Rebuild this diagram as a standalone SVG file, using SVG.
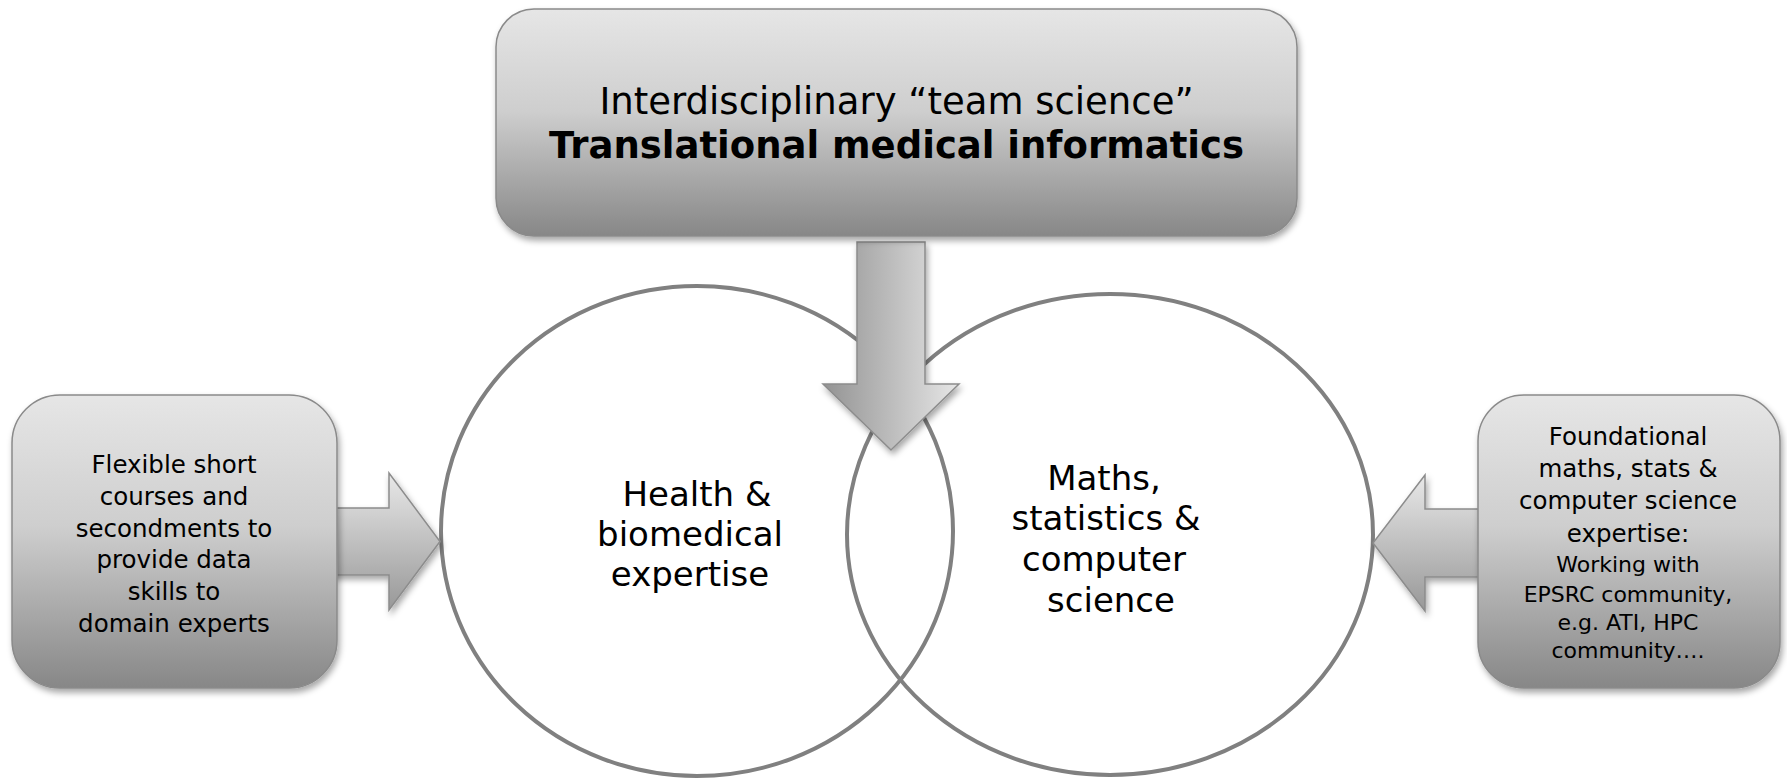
<svg xmlns="http://www.w3.org/2000/svg" width="1787" height="778" viewBox="0 0 1787 778">
<style>
.t{font-family:"DejaVu Sans",Verdana,"Liberation Sans",sans-serif;fill:#000;text-anchor:middle}
.box{fill:url(#boxGrad);stroke:#8a8a8a;stroke-width:1.5;filter:url(#shadow)}
.ring{fill:none;stroke:#808080;stroke-width:4}
.arrH{fill:url(#arrGradV);stroke:#8c8c8c;stroke-width:1.5;filter:url(#shadow)}
.arrD{fill:url(#arrGradH);stroke:#8c8c8c;stroke-width:1.5;filter:url(#shadow)}
</style>
<defs>
<linearGradient id="boxGrad" x1="0" y1="0" x2="0" y2="1">
<stop offset="0" stop-color="#e6e6e6"/>
<stop offset="0.45" stop-color="#cecece"/>
<stop offset="1" stop-color="#878787"/>
</linearGradient>
<linearGradient id="arrGradV" x1="0" y1="0" x2="0" y2="1">
<stop offset="0" stop-color="#e8e8e8"/>
<stop offset="1" stop-color="#989898"/>
</linearGradient>
<linearGradient id="arrGradH" x1="0" y1="0" x2="1" y2="0">
<stop offset="0" stop-color="#939393"/>
<stop offset="1" stop-color="#e6e6e6"/>
</linearGradient>
<filter id="shadow" x="-10%" y="-10%" width="125%" height="125%">
<feDropShadow dx="2" dy="4" stdDeviation="3" flood-color="#000" flood-opacity="0.35"/>
</filter>
</defs>
<rect width="1787" height="778" fill="#fff"/>

<g id="circle-health">
<ellipse class="ring" cx="697" cy="531" rx="256" ry="245"/>
<text class="t" font-size="34"><tspan x="697" y="506">Health &amp;</tspan><tspan x="690" y="546">biomedical</tspan><tspan x="690" y="586">expertise</tspan></text>
</g>
<g id="circle-maths">
<ellipse class="ring" cx="1110" cy="534.5" rx="263" ry="240.5"/>
<text class="t" font-size="34"><tspan x="1104" y="490">Maths,</tspan><tspan x="1106" y="530">statistics &amp;</tspan><tspan x="1104" y="571">computer</tspan><tspan x="1111" y="612">science</tspan></text>
</g>

<g id="connectors">
<path class="arrH" d="M330,508 H389 V473 L440,541.5 L389,610 V575 H330 Z"/>
<path class="arrH" d="M1485,509 H1425 V475 L1373,543 L1425,611 V577 H1485 Z"/>
<path class="arrD" d="M857,242 H925 V384 H959 L891,450 L823,384 H857 Z"/>
</g>

<g id="top-box">
<rect class="box" x="496" y="9" width="801" height="227" rx="38" ry="38"/>
<text class="t" font-size="37"><tspan x="896.5" y="114">Interdisciplinary “team science”</tspan><tspan x="896.5" y="158" font-weight="bold">Translational medical informatics</tspan></text>
</g>

<g id="left-box">
<rect class="box" x="12" y="395" width="325" height="293" rx="48" ry="48"/>
<text class="t" font-size="24.5"><tspan x="174" y="473">Flexible short</tspan><tspan x="174" y="505">courses and</tspan><tspan x="174" y="537">secondments to</tspan><tspan x="174" y="568">provide data</tspan><tspan x="174" y="600">skills to</tspan><tspan x="174" y="632">domain experts</tspan></text>
</g>

<g id="right-box">
<rect class="box" x="1478" y="395" width="302" height="293" rx="46" ry="46"/>
<text class="t" font-size="24.5"><tspan x="1628" y="445">Foundational</tspan><tspan x="1628" y="477">maths, stats &amp;</tspan><tspan x="1628" y="509">computer science</tspan><tspan x="1628" y="541.5">expertise:</tspan></text>
<text class="t" font-size="22"><tspan x="1628" y="572">Working with</tspan><tspan x="1628" y="602">EPSRC community,</tspan><tspan x="1628" y="630">e.g. ATI, HPC</tspan><tspan x="1628" y="658">community….</tspan></text>
</g>
</svg>
